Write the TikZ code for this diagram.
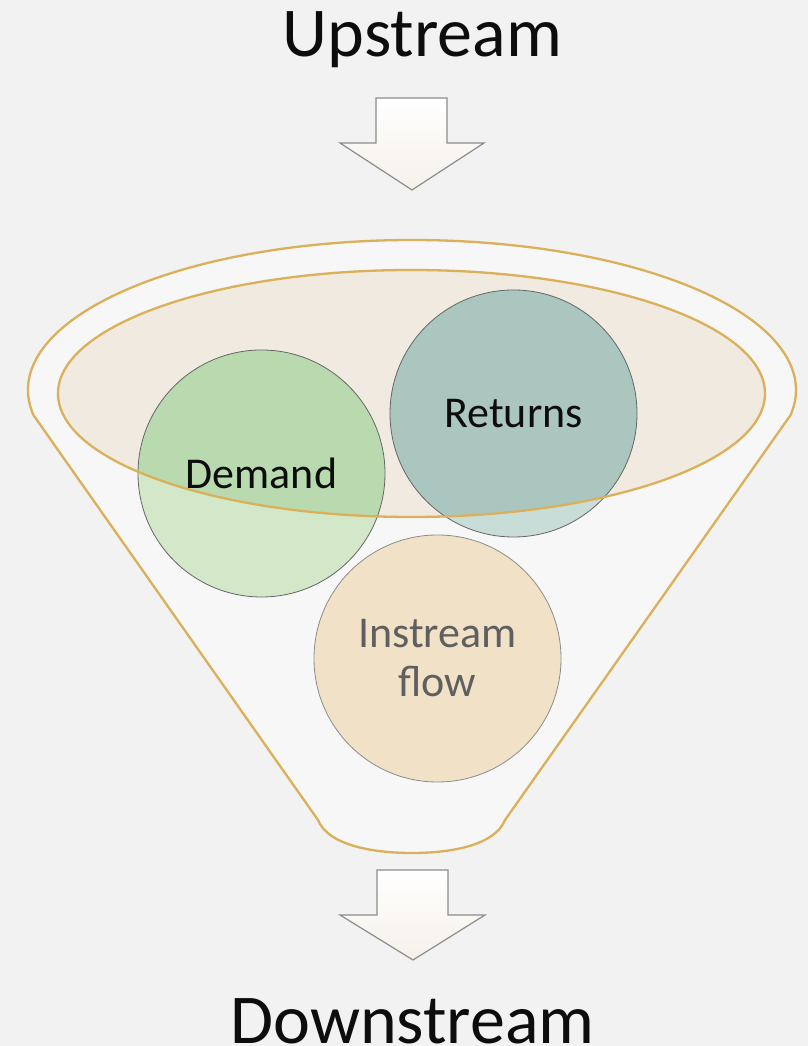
\documentclass[tikz,border=0pt]{standalone}
\usepackage{fontspec}
\setmainfont{Carlito}
\definecolor{bg}{HTML}{F2F2F2}
\definecolor{funnelfill}{HTML}{F7F7F7}
\definecolor{gold}{HTML}{DBB05A}
\definecolor{innerfill}{HTML}{F1EAE0}
\definecolor{demlight}{HTML}{D2E8C8}
\definecolor{demdark}{HTML}{B8DAAE}
\definecolor{retlight}{HTML}{C8DCD8}
\definecolor{retdark}{HTML}{AAC6BF}
\definecolor{insfill}{HTML}{F0E1C7}
\definecolor{txt}{HTML}{0D0D0D}
\definecolor{instxt}{HTML}{5F5F5F}
\definecolor{arrline}{HTML}{8C8C8C}
\begin{document}
\begin{tikzpicture}[x=1pt,y=1pt,
  goldline/.style={draw=gold,line width=2.3pt},
  bubble/.style={circle,minimum size=247pt,inner sep=0pt,draw=black!60,line width=0.8pt,
     font=\fontsize{44}{49}\selectfont,text=txt,align=center},
  blockarrow/.style={draw=arrline,line width=1.2pt,top color=white,bottom color=innerfill!70!white},
  heading/.style={font=\fontsize{70}{80}\selectfont,text=txt,anchor=base,inner sep=0pt}]
\useasboundingbox (0,0) rectangle (808,1046);
\fill[bg] (0,0) rectangle (808,1046);
% funnel
\path[goldline,fill=funnelfill]
  (412,656) ++(189.6:384 and 150) coordinate (lk)
  arc[start angle=189.6,end angle=-9.6,x radius=384,y radius=150] coordinate (rk)
  -- (505,226) .. controls (495,201) and (452,193) .. (412,193)
  .. controls (372,193) and (328,201) .. (318,226) -- cycle;
% inner ellipse fill
\fill[innerfill] (411.5,652.5) ellipse[x radius=353.5,y radius=123.5];
% bubble fills
\fill[demlight] (261.5,572.5) circle[radius=123.5];
\fill[retlight] (513.5,632.5) circle[radius=123.5];
\begin{scope}
  \clip (411.5,652.5) ellipse[x radius=353.5,y radius=123.5];
  \fill[demdark] (261.5,572.5) circle[radius=123.5];
  \fill[retdark] (513.5,632.5) circle[radius=123.5];
\end{scope}
% bubbles
\node[bubble] (demand) at (261.5,572.5) {Demand};
\node[bubble] (returns) at (513.5,632.5) {Returns};
\node[bubble,fill=insfill,draw=black!45,text=instxt] (instream) at (437.5,387.5) {Instream\\flow};
% inner ellipse outline
\draw[goldline] (411.5,652.5) ellipse[x radius=353.5,y radius=123.5];
% headings
\node[heading] (up) at (422.5,989) {Upstream};
\node[heading] (down) at (412.5,2) {Downstream};
% arrows
\path[blockarrow] (376,948) -- (447,948) -- (447,903) -- (484,903) -- (412,856)
  -- (340,903) -- (376,903) -- cycle;
\path[blockarrow] (377,176) -- (448,176) -- (448,131) -- (485,131) -- (413,86)
  -- (340,131) -- (377,131) -- cycle;
\end{tikzpicture}
\end{document}
